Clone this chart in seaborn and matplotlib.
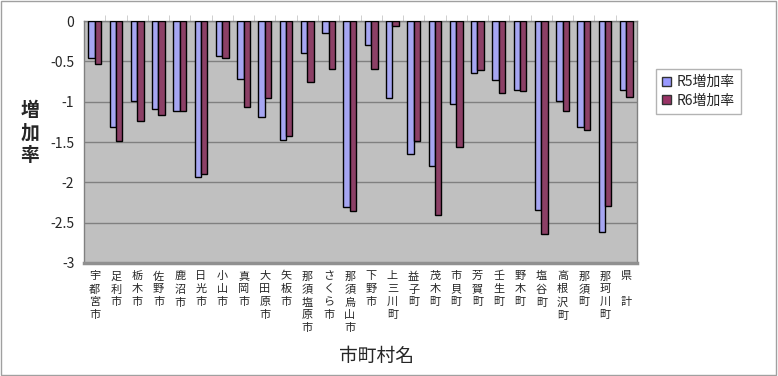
import seaborn as sns
import pandas as pd
import matplotlib.pyplot as plt
from matplotlib.patches import Rectangle, Patch

# 市町村名
cities = ["宇都宮市", "足利市", "栃木市", "佐野市", "鹿沼市", "日光市", "小山市",
          "真岡市", "大田原市", "矢板市", "那須塩原市", "さくら市", "那須烏山市",
          "下野市", "上三川町", "益子町", "茂木町", "市貝町", "芳賀町", "壬生町",
          "野木町", "塩谷町", "高根沢町", "那須町", "那珂川町", "県　計"]

r5 = [-0.46, -1.32, -0.99, -1.09, -1.11, -1.93, -0.44, -0.72, -1.19, -1.47,
      -0.40, -0.15, -2.30, -0.30, -0.96, -1.65, -1.80, -1.03, -0.65, -0.73,
      -0.85, -2.34, -0.99, -1.31, -2.62, -0.85]
r6 = [-0.53, -1.49, -1.24, -1.16, -1.11, -1.90, -0.46, -1.07, -0.95, -1.42,
      -0.76, -0.59, -2.35, -0.60, -0.06, -1.49, -2.40, -1.56, -0.61, -0.89,
      -0.87, -2.64, -1.12, -1.35, -2.29, -0.94]

series = ["R5増加率", "R6増加率"]
colors = ["#9999ff", "#993366"]

df = pd.DataFrame({"市町村名": cities * 2,
                   "増加率": r5 + r6,
                   "系列": [series[0]] * len(cities) + [series[1]] * len(cities)})

sns.set_style("white")
plt.rcParams["font.family"] = ["Noto Sans CJK JP", "DejaVu Sans"]

fig = plt.figure(figsize=(7.78, 3.76), dpi=100)
ax = fig.add_axes([84 / 778, 1 - 263 / 376, (637 - 84) / 778, (263 - 21) / 376])
ax.set_facecolor("#c0c0c0")

sns.barplot(data=df, x="市町村名", y="増加率", hue="系列", hue_order=series,
            palette=colors, width=0.6, gap=0, edgecolor="black", linewidth=1,
            ax=ax, legend=False, zorder=3)

ax.set_ylim(-3, 0)
ax.set_xlim(-0.5, len(cities) - 0.5)
ax.set_yticks([0, -0.5, -1, -1.5, -2, -2.5, -3])
ax.set_yticklabels(["0", "-0.5", "-1", "-1.5", "-2", "-2.5", "-3"], fontsize=10)
ax.yaxis.grid(True, color="#808080", linewidth=1, zorder=1)
ax.set_axisbelow(True)

ax.set_xticks(range(len(cities)))
ax.set_xticklabels(["\n".join(c) for c in cities], fontsize=8,
                   linespacing=1.35, va="top")
ax.set_xticks([i + 0.5 for i in range(len(cities) - 1)], minor=True)
ax.tick_params(axis="x", which="major", length=0, pad=6)
ax.tick_params(axis="x", which="minor", top=True, bottom=False,
               direction="out", length=4, color="#c8c8c8")
ax.tick_params(axis="y", length=3, color="#606060", pad=4)

for side in ["left", "top", "right"]:
    ax.spines[side].set_color("#808080")
    ax.spines[side].set_linewidth(1)
ax.spines["bottom"].set_color("#909090")
ax.spines["bottom"].set_linewidth(2.5)

ax.set_xlabel("")
ax.set_ylabel("")
fig.text(30 / 778, 1 - 133 / 376, "増\n加\n率", fontsize=13.5, fontweight="bold",
         ha="center", va="center", linespacing=1.2)
fig.text(376 / 778, 1 - 356 / 376, "市町村名", fontsize=13.5,
         ha="center", va="center")

handles = [Patch(facecolor=c, edgecolor="#333333", label=s)
           for c, s in zip(colors, series)]
fig.legend(handles=handles, loc="upper left",
           bbox_to_anchor=(656 / 778, 1 - 69 / 376), fontsize=10,
           frameon=True, fancybox=False, edgecolor="#a0a0a0",
           handlelength=0.65, handleheight=0.65, handletextpad=0.4,
           borderpad=0.45, labelspacing=0.3, borderaxespad=0)

fig.patches.append(Rectangle((0.001, 0.002), 0.997, 0.996, transform=fig.transFigure,
                             fill=False, edgecolor="#a0a0a0", linewidth=1))

fig.savefig("out.png", dpi=100)
